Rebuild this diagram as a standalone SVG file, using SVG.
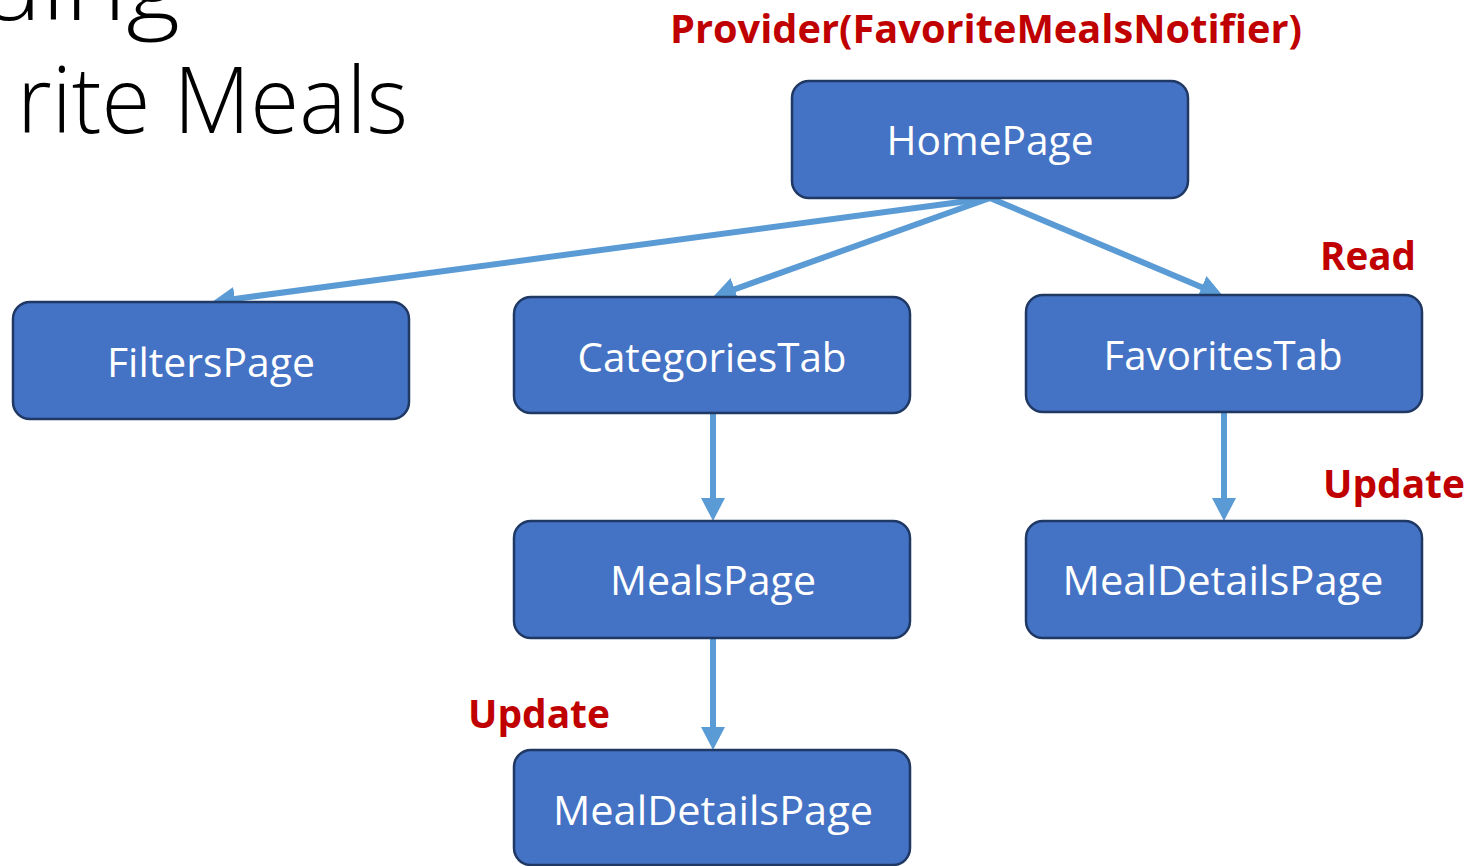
<svg xmlns="http://www.w3.org/2000/svg" width="1483" height="866" viewBox="0 0 1483 866">
  <defs>
    <style>
      .node rect { fill: #4472C4; stroke: #1F3864; stroke-width: 2.5; }
      .node text { fill: #FFFFFF; font-family: "Open Sans", "Liberation Sans", sans-serif; font-size: 40px; text-anchor: middle; }
      .edge { stroke: #5B9BD5; stroke-width: 6; fill: none; marker-end: url(#arrow); }
      .tag { fill: #C00000; font-family: "Open Sans", "Liberation Sans", sans-serif; font-weight: 700; font-size: 39px; }
      .title { fill: #000000; font-family: "Open Sans", "Lato", "Liberation Sans", sans-serif; font-weight: 300; font-size: 92px; text-anchor: end; }
    </style>
    <marker id="arrow" markerUnits="userSpaceOnUse" markerWidth="24" markerHeight="24" refX="11" refY="12" orient="auto">
      <path d="M0,0 L23,12 L0,24 z" fill="#5B9BD5"/>
    </marker>
  </defs>

  <rect width="1483" height="866" fill="#FFFFFF"/>

  <!-- slide title, partly off the left/top edge -->
  <g id="title">
    <text class="title" x="180" y="20" textLength="200" lengthAdjust="spacingAndGlyphs">ding</text>
    <text class="title" x="408" y="133" textLength="391" lengthAdjust="spacingAndGlyphs">rite Meals</text>
  </g>

  <!-- annotations -->
  <g id="labels">
    <text class="tag" x="670" y="43" textLength="632" lengthAdjust="spacingAndGlyphs">Provider(FavoriteMealsNotifier)</text>
    <text class="tag" x="1320" y="270" textLength="96" lengthAdjust="spacingAndGlyphs">Read</text>
    <text class="tag" x="1323" y="498" textLength="142" lengthAdjust="spacingAndGlyphs">Update</text>
    <text class="tag" x="468" y="728" textLength="142" lengthAdjust="spacingAndGlyphs">Update</text>
  </g>

  <!-- connectors -->
  <g id="connectors">
    <line class="edge" x1="990" y1="198" x2="223.9" y2="300.4"/>
    <line class="edge" x1="990" y1="198" x2="724.3" y2="293"/>
    <line class="edge" x1="990" y1="198" x2="1211.9" y2="291.4"/>
    <line class="edge" x1="713" y1="413" x2="713" y2="509"/>
    <line class="edge" x1="713" y1="638" x2="713" y2="738"/>
    <line class="edge" x1="1224" y1="412" x2="1224" y2="509"/>
  </g>

  <g id="home" class="node">
    <rect x="792" y="81" width="396" height="117" rx="17"/>
    <text x="990" y="155" textLength="207" lengthAdjust="spacingAndGlyphs">HomePage</text>
  </g>

  <g id="filters" class="node">
    <rect x="13" y="302" width="396" height="117" rx="17"/>
    <text x="211" y="377" textLength="208" lengthAdjust="spacingAndGlyphs">FiltersPage</text>
  </g>

  <g id="categories" class="node">
    <rect x="514" y="297" width="396" height="116" rx="17"/>
    <text x="712" y="372" textLength="269" lengthAdjust="spacingAndGlyphs">CategoriesTab</text>
  </g>

  <g id="favorites" class="node">
    <rect x="1026" y="295" width="396" height="117" rx="17"/>
    <text x="1223" y="370" textLength="239" lengthAdjust="spacingAndGlyphs">FavoritesTab</text>
  </g>

  <g id="meals" class="node">
    <rect x="514" y="521" width="396" height="117" rx="17"/>
    <text x="713" y="595" textLength="206" lengthAdjust="spacingAndGlyphs">MealsPage</text>
  </g>

  <g id="meal-details-a" class="node">
    <rect x="514" y="750" width="396" height="115" rx="17"/>
    <text x="713" y="825" textLength="320" lengthAdjust="spacingAndGlyphs">MealDetailsPage</text>
  </g>

  <g id="meal-details-b" class="node">
    <rect x="1026" y="521" width="396" height="117" rx="17"/>
    <text x="1223" y="595" textLength="321" lengthAdjust="spacingAndGlyphs">MealDetailsPage</text>
  </g>
</svg>
